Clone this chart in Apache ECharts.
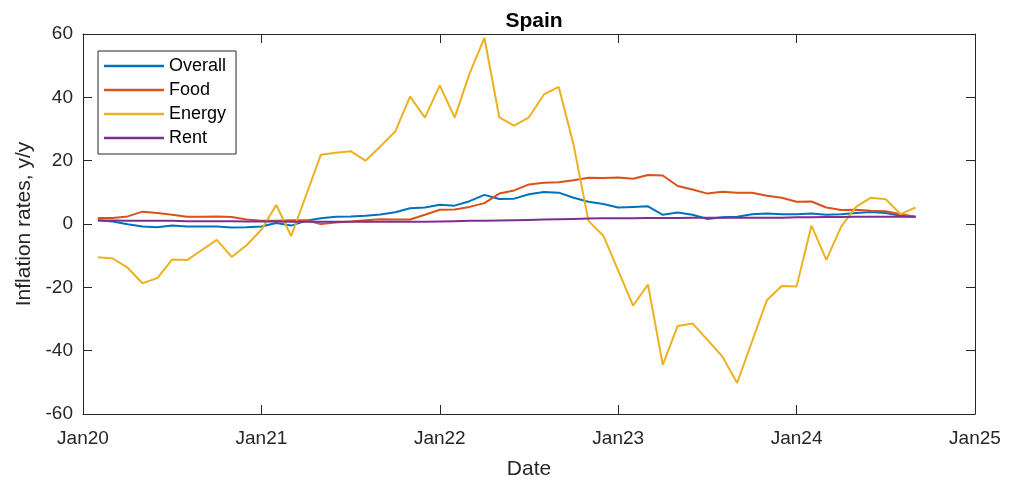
<!DOCTYPE html>
<html><head><meta charset="utf-8">
<script src="https://cdn.jsdelivr.net/npm/echarts@6/dist/echarts.min.js"></script>
<style>html,body{margin:0;padding:0;background:#fff}#c{width:1010px;height:485px}</style>
</head><body><div id="c"></div>
<script>
const months = ['2020-01','2020-02','2020-03','2020-04','2020-05','2020-06','2020-07','2020-08','2020-09','2020-10','2020-11','2020-12',
'2021-01','2021-02','2021-03','2021-04','2021-05','2021-06','2021-07','2021-08','2021-09','2021-10','2021-11','2021-12',
'2022-01','2022-02','2022-03','2022-04','2022-05','2022-06','2022-07','2022-08','2022-09','2022-10','2022-11','2022-12',
'2023-01','2023-02','2023-03','2023-04','2023-05','2023-06','2023-07','2023-08','2023-09','2023-10','2023-11','2023-12',
'2024-01','2024-02','2024-03','2024-04','2024-05','2024-06','2024-07','2024-08'];
const overall = [1.2,0.8,-0.1,-0.8,-1.0,-0.5,-0.8,-0.8,-0.8,-1.1,-1.0,-0.8,
0.3,-0.5,1.0,1.8,2.3,2.4,2.6,3.0,3.7,5.0,5.2,6.1,
5.8,7.2,9.2,7.9,8.0,9.4,10.1,9.9,8.3,7.0,6.3,5.2,
5.4,5.6,2.9,3.6,2.9,1.6,2.1,2.3,3.1,3.3,3.1,3.1,
3.3,2.9,3.1,3.5,3.8,3.5,2.6,2.3];
const food = [1.9,1.9,2.4,3.9,3.5,2.9,2.3,2.3,2.4,2.2,1.4,1.0,
1.0,1.2,1.2,0.0,0.5,0.8,1.2,1.5,1.4,1.4,2.9,4.5,
4.6,5.4,6.6,9.6,10.6,12.5,13.0,13.2,13.8,14.6,14.5,14.7,
14.3,15.5,15.3,12.0,10.9,9.6,10.2,9.9,9.9,8.9,8.3,7.0,
7.1,5.2,4.4,4.5,4.2,4.0,3.1,2.3];
const energy = [-10.5,-10.9,-13.8,-18.7,-17.1,-11.2,-11.4,-8.2,-5.0,-10.4,-6.7,-1.8,
6.0,-3.8,9.0,21.9,22.5,23.0,20.0,24.5,29.2,40.2,33.6,43.8,
33.6,47.5,58.8,33.7,31.1,33.7,40.9,43.3,25.0,1.0,-3.7,-14.7,
-25.8,-19.1,-44.5,-32.2,-31.4,-36.6,-41.8,-50.2,-37.1,-24.1,-19.6,-19.7,
-0.5,-11.3,-0.8,5.4,8.3,7.8,3.1,5.2];
const rent = [1.1,1.1,1.0,1.0,1.0,1.0,0.9,0.9,0.9,0.9,0.8,0.8,
0.8,0.7,0.7,0.7,0.7,0.7,0.7,0.7,0.7,0.7,0.7,0.8,
0.9,1.0,1.0,1.1,1.2,1.3,1.4,1.5,1.6,1.7,1.8,1.8,
1.8,1.9,1.9,1.9,2.0,2.0,2.0,2.0,2.0,2.0,2.0,2.1,
2.1,2.2,2.2,2.3,2.3,2.3,2.3,2.3];
const xTickLabels = ['Jan20','Jan21','Jan22','Jan23','Jan24','Jan25'];
const seriesNames = ['Overall','Food','Energy','Rent'];
const colors = ['#0072BD','#D95319','#EDB120','#7E2F8E'];

// month-end position in months since Jan 2020
function mpos(s){const [y,m]=s.split('-').map(Number);return (y-2020)*12+m;}
function pairs(vals){return vals.map((v,i)=>[mpos(months[i]),v]);}

const FONT = "'Liberation Sans', Arial, sans-serif";
const AX = '#262626';
const chart = echarts.init(document.getElementById('c'), null, {renderer:'canvas'});
const baseX = {type:'value', min:0, max:60, interval:12, splitLine:{show:false},
  axisLine:{show:true, onZero:false, lineStyle:{color:AX, width:1}},
  axisTick:{show:true, inside:true, length:9, lineStyle:{color:AX}}};
const baseY = {type:'value', min:-60, max:60, interval:20, splitLine:{show:false},
  axisLine:{show:true, onZero:false, lineStyle:{color:AX, width:1}},
  axisTick:{show:true, inside:true, length:9, lineStyle:{color:AX}}};
chart.setOption({
  animation:false,
  color: colors,
  title:{text:'Spain', left:529, textAlign:'center', top:6,
    textStyle:{fontFamily:FONT, fontSize:21, fontWeight:'bold', color:'#000'}},
  grid:{left:83, right:35, top:34, bottom:66, containLabel:false},
  legend:{orient:'vertical', left:98, top:51, icon:'rect', itemWidth:60, itemHeight:2.5, itemGap:6,
    padding:[6,10,7,6], borderColor:AX, borderWidth:1, backgroundColor:'#fff',
    textStyle:{fontFamily:FONT, fontSize:18, color:'#000', lineHeight:18},
    data: seriesNames},
  xAxis:[Object.assign({}, baseX, {position:'bottom', name:'Date', nameLocation:'middle', nameGap:45,
      nameTextStyle:{fontFamily:FONT, fontSize:21, color:AX},
      axisLabel:{margin:15, fontFamily:FONT, fontSize:19, color:AX,
        formatter:(v)=>xTickLabels[Math.round(v/12)]}}),
    Object.assign({}, baseX, {position:'top', axisLabel:{show:false}})],
  yAxis:[Object.assign({}, baseY, {position:'left', name:'Inflation rates, y/y', nameLocation:'middle', nameGap:42,
      nameTextStyle:{fontFamily:FONT, fontSize:21, color:AX},
      axisLabel:{margin:10, fontFamily:FONT, fontSize:19, color:AX}}),
    Object.assign({}, baseY, {position:'right', axisLabel:{show:false}})],
  series:[overall, food, energy, rent].map((vals,k)=>({
    name: seriesNames[k], type:'line', xAxisIndex:0, yAxisIndex:0,
    data: pairs(vals), showSymbol:false, symbol:'none',
    lineStyle:{width:2, color:colors[k]}, itemStyle:{color:colors[k]},
    z: 2 + k
  }))
});
</script></body></html>
